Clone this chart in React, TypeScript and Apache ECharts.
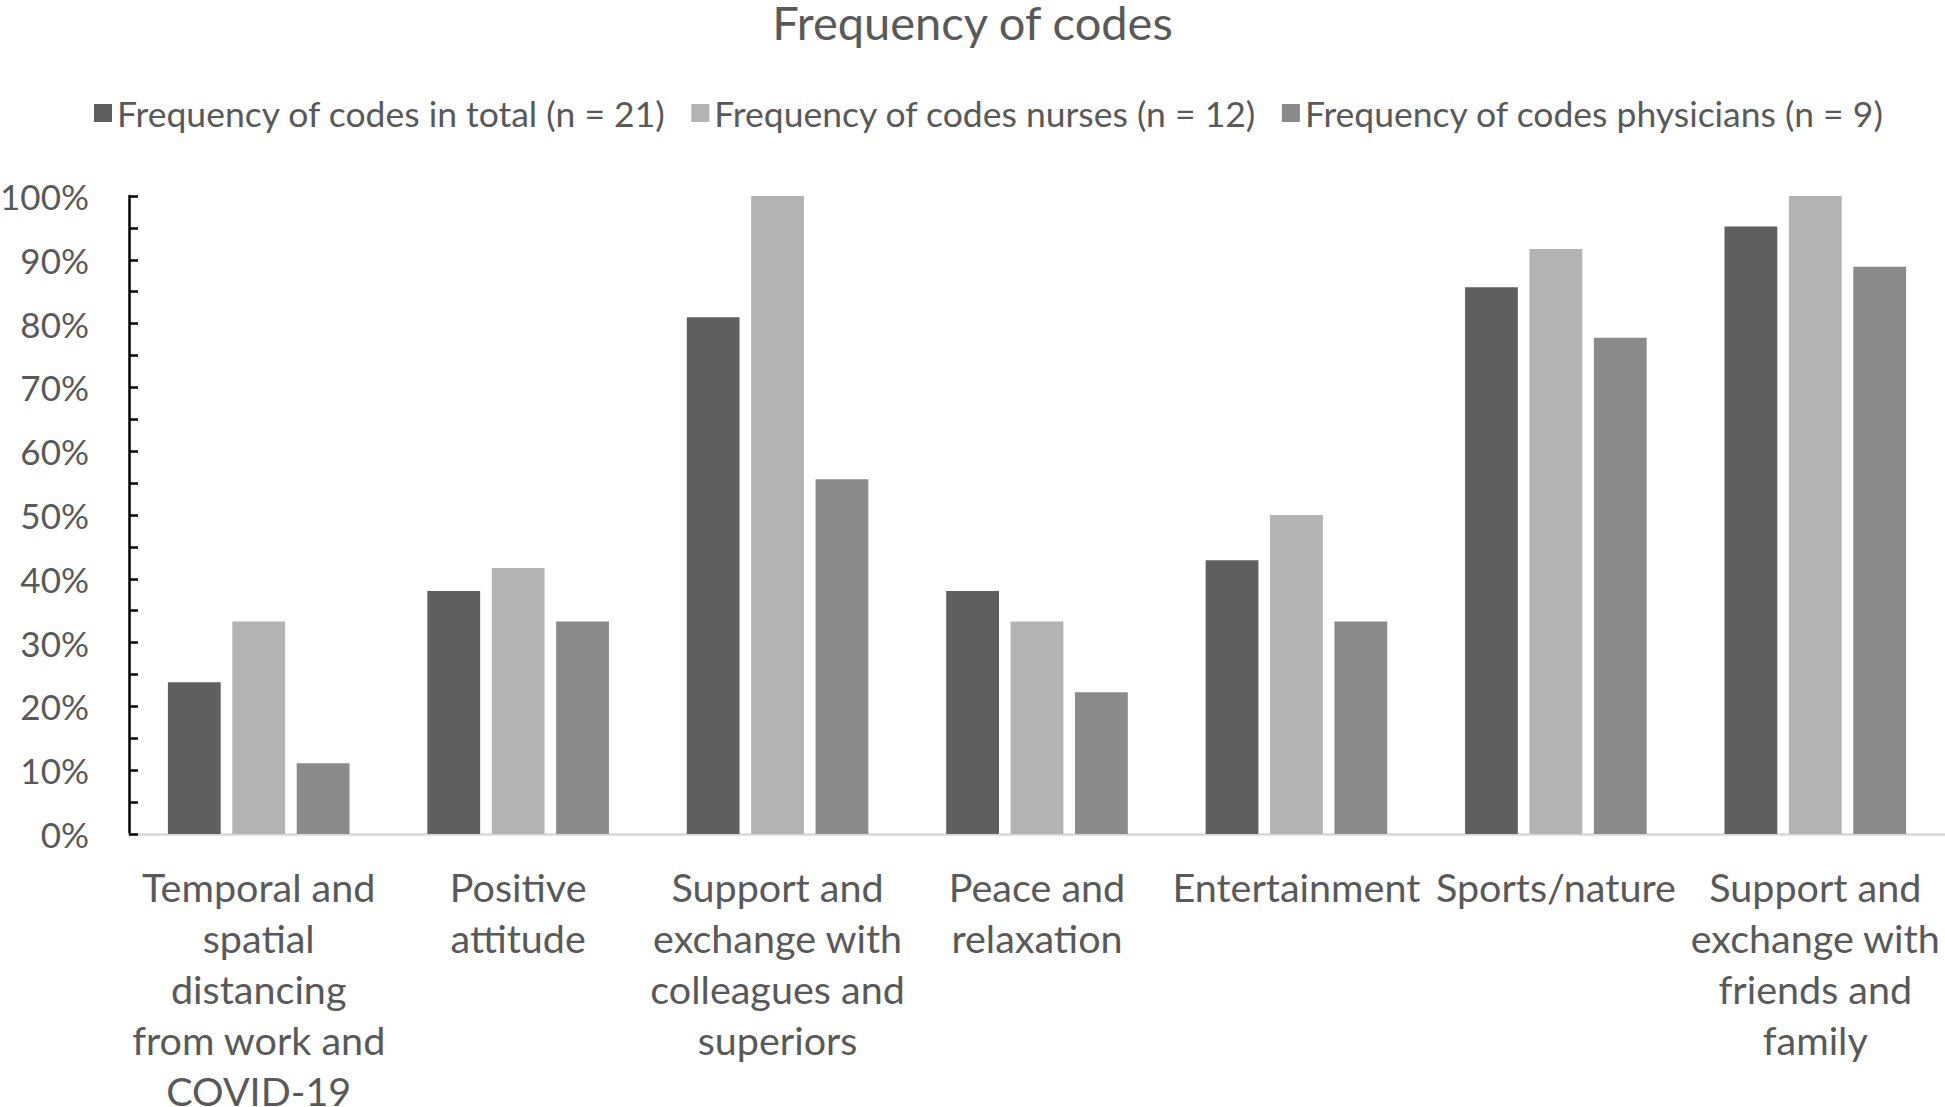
import React, { useEffect, useRef } from "react";
import * as echarts from "echarts";

const categories = [
  "Temporal and\nspatial\ndistancing\nfrom work and\nCOVID-19",
  "Positive\nattitude",
  "Support and\nexchange with\ncolleagues and\nsuperiors",
  "Peace and\nrelaxation",
  "Entertainment",
  "Sports/nature",
  "Support and\nexchange with\nfriends and\nfamily",
];

const seriesNames = [
  "Frequency of codes in total (n = 21)",
  "Frequency of codes nurses (n = 12)",
  "Frequency of codes physicians (n = 9)",
];

const totalValues = [23.8, 38.1, 81.0, 38.1, 42.9, 85.7, 95.2];
const nurseValues = [33.3, 41.7, 100, 33.3, 50.0, 91.7, 100];
const physicianValues = [11.1, 33.3, 55.6, 22.2, 33.3, 77.8, 88.9];

const colors = ["#5f5f5f", "#b3b3b3", "#8a8a8a"];
const FONT = "Lato, 'Open Sans', sans-serif";
const TEXT = "#595959";

export default function App() {
  const ref = useRef<HTMLDivElement>(null);
  useEffect(() => {
    if (!ref.current) return;
    const chart = echarts.init(ref.current, undefined, { renderer: "svg" });
    const values = [totalValues, nurseValues, physicianValues];
    chart.setOption({
      animation: false,
      backgroundColor: "#ffffff",
      textStyle: { fontFamily: FONT, color: TEXT },
      title: {
        text: "Frequency of codes",
        left: "center",
        top: -2,
        padding: 0,
        textStyle: { fontFamily: FONT, fontSize: 47, fontWeight: "normal", color: TEXT },
      },
      legend: {
        top: 90,
        left: 89,
        itemWidth: 18,
        itemHeight: 18,
        itemGap: 25,
        icon: "rect",
        textStyle: { fontFamily: FONT, fontSize: 35.5, color: TEXT },
        data: seriesNames,
      },
      grid: {
        left: 129,
        right: 0,
        top: 196,
        bottom: 273,
        containLabel: false,
        outerBoundsMode: "none",
      },
      xAxis: {
        type: "category",
        data: categories,
        axisLine: { show: true, lineStyle: { color: "#d9d9d9", width: 2.5 } },
        axisTick: { show: false },
        axisLabel: {
          interval: 0,
          fontFamily: FONT,
          fontSize: 39.5,
          lineHeight: 51,
          color: TEXT,
          margin: 27,
          align: "center",
        },
      },
      yAxis: {
        type: "value",
        min: 0,
        max: 100,
        interval: 10,
        axisLine: { show: true, lineStyle: { color: "#000000", width: 2.5 } },
        axisTick: { show: true, inside: true, length: 9, lineStyle: { color: "#000000", width: 2.5 } },
        minorTick: { show: true, splitNumber: 2, length: 9, lineStyle: { color: "#000000", width: 2.5 } },
        splitLine: { show: false },
        axisLabel: {
          formatter: "{value}%",
          fontFamily: FONT,
          fontSize: 35,
          color: TEXT,
          margin: 40,
        },
      },
      series: seriesNames.map((name, i) => ({
        name,
        type: "bar",
        data: values[i],
        barGap: "22%",
        barCategoryGap: "30%",
        itemStyle: { color: colors[i] },
      })),
    });
    return () => chart.dispose();
  }, []);
  return (
    <div
      ref={ref}
      style={{ position: "absolute", left: 0, top: 0, width: 1945, height: 1107 }}
    />
  );
}
